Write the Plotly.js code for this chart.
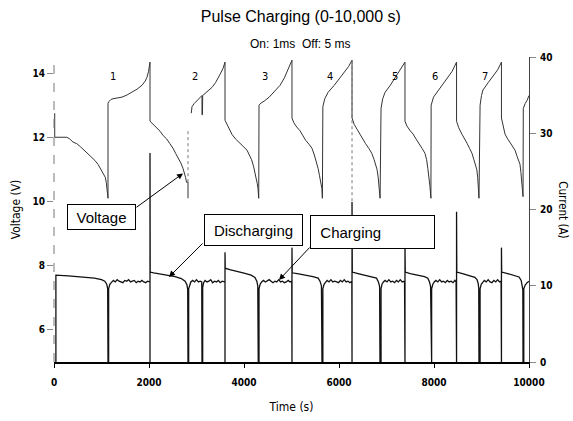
<!DOCTYPE html>
<html>
<head>
<meta charset="utf-8">
<script src="https://cdn.plot.ly/plotly-3.0.1.min.js"></script>
<style>html,body{margin:0;padding:0;background:#fff;}#chart{width:573px;height:421px;}</style>
</head>
<body>
<div id="chart"></div>
<script>
// ---- Voltage (left axis), discharging parts ----
const voltDisTime = [
  15,15,270,330,400,480,560,630,700,770,860,930,1000,1050,1080,1100,1116,1130,1137, null,
  2021,2060,2120,2180,2232,2300,2370,2440,2505,2560,2620,2670,2716,2745,2770,2790,2821,2821, null,
  3600,3640,3700,3747,3820,3900,3980,4063,4120,4160,4200,4232,4260,4280,4295,4310, null,
  5010,5050,5110,5180,5240,5300,5370,5430,5480,5520,5560,5590,5615,5640,5650, null,
  6274,6320,6380,6440,6500,6560,6630,6690,6740,6770,6800,6825,6850,6865, null,
  7389,7430,7500,7560,7620,7690,7750,7810,7845,7870,7895,7915,7935, null,
  8475,8520,8590,8650,8700,8750,8800,8840,8870,8900,8920,8935,8947, null,
  9420,9450,9495,9550,9610,9660,9705,9750,9790,9810,9830,9850,9865,9874
];
const voltDisVolts = [
  12.75,12.0,12.0,11.95,11.85,11.8,11.7,11.6,11.53,11.42,11.28,11.15,10.97,10.85,10.75,10.6,10.4,10.2,10.1, null,
  12.5,12.44,12.35,12.25,12.19,12.05,11.95,11.8,11.66,11.5,11.35,11.2,11.03,10.9,10.75,10.6,10.6,10.1, null,
  12.53,12.4,12.25,12.09,11.95,11.85,11.72,11.6,11.45,11.3,11.1,10.9,10.7,10.55,10.4,10.1, null,
  12.6,12.45,12.32,12.2,12.05,11.9,11.78,11.66,11.45,11.25,11.03,10.8,10.6,10.4,10.1, null,
  12.6,12.4,12.25,12.09,11.95,11.8,11.65,11.5,11.3,11.15,11.0,10.75,10.4,10.1, null,
  12.5,12.35,12.2,12.1,11.95,11.8,11.65,11.5,11.3,11.03,10.75,10.47,10.1, null,
  12.5,12.3,12.09,11.95,11.8,11.65,11.5,11.3,11.15,11.0,10.75,10.5,10.1, null,
  12.6,12.4,12.1,11.95,11.8,11.7,11.6,11.4,11.25,11.16,10.9,10.6,10.4,10.15
];

// ---- Voltage (left axis), charging parts ----
const voltChgTime = [
  1137,1137,1160,1200,1242,1330,1432,1540,1642,1750,1853,1920,1958,1990,2021,2021, null,
  2890,2905,2950,3000,3060,3116,3116,3125,3130,3190,3250,3330,3400,3460,3510,3560,3600,3600, null,
  4310,4316,4360,4420,4530,4650,4760,4850,4930,5010,5010, null,
  5650,5660,5700,5770,5900,6020,6120,6200,6274,6274, null,
  6865,6885,6920,6970,7080,7180,7270,7389,7389, null,
  7935,7940,7990,8063,8180,8290,8380,8475,8475, null,
  8947,8970,9000,9030,9140,9250,9340,9420,9420, null,
  9874,9880,9920,9960,10000
];
const voltChgVolts = [
  10.1,13.06,13.12,13.18,13.2,13.22,13.25,13.32,13.4,13.5,13.62,13.75,13.87,14.05,14.34,12.5, null,
  12.75,12.95,13.05,13.12,13.22,13.3,12.7,12.7,13.3,13.38,13.45,13.56,13.7,13.85,14.0,14.15,14.34,12.53, null,
  10.1,13.0,13.07,13.12,13.25,13.45,13.62,13.85,14.1,14.4,12.6, null,
  10.1,12.95,13.2,13.4,13.62,13.85,14.05,14.2,14.4,12.6, null,
  10.1,12.9,13.2,13.4,13.62,13.85,14.05,14.34,12.5, null,
  10.1,13.0,13.25,13.4,13.62,13.85,14.05,14.34,12.5, null,
  10.1,13.0,13.3,13.47,13.7,13.9,14.1,14.34,12.6, null,
  10.15,12.9,13.05,13.15,13.3
];

// ---- faint dotted guide lines (voltage axis) ----
const guideTime  = [2821, 2821, null, 6274, 6274];
const guideVolts = [12.19, 10.56, null, 14.4, 9.9];

// ---- Current (right axis) ----
const currTime = [
  40,40,300,600,850,1000,1070,1110,1130,1137,1150,1150,1175,1210,
  1250,1290,1330,1370,1410,1450,1490,1530,1570,1610,1650,1690,1730,1770,1810,1850,1890,1930,1970,2010,
  2021,2021,2021,2025,
  2100,2250,2400,2550,2680,2760,2800,2815,2821,2835,2835,2855,2880,
  2920,2960,3000,3040,3080,3110,3116,3130,3130,3150,
  3180,3220,3260,3300,3340,3380,3420,3460,3500,3540,3590,
  3600,3600,3600,3605,
  3700,3850,4000,4150,4230,4270,4290,4300,4316,4316,4340,4370,
  4410,4450,4490,4530,4570,4610,4650,4690,4730,4770,4810,4850,4890,4930,4970,5005,
  5010,5010,5015,
  5150,5300,5450,5560,5600,5630,5642,5660,5660,5685,5715,
  5750,5790,5830,5870,5910,5950,5990,6030,6070,6110,6150,6190,6230,6270,
  6274,6274,6280,
  6400,6550,6700,6790,6830,6855,6863,6885,6885,6905,6935,
  6970,7010,7050,7090,7130,7170,7210,7250,7290,7330,7380,
  7389,7389,7395,
  7500,7650,7800,7870,7905,7928,7937,7950,7950,7975,8005,
  8040,8080,8120,8160,8200,8240,8280,8320,8360,8400,8440,8465,
  8475,8475,8480,
  8600,8750,8860,8905,8930,8942,8947,8970,8970,8995,9025,
  9060,9100,9140,9180,9220,9260,9300,9340,9380,9412,
  9420,9420,9425,
  9550,9700,9790,9835,9860,9870,9874,9890,9890,9920,9960,10000
];
const currAmps = [
  0,11.4,11.3,11.15,11.0,10.8,10.6,10.2,9.6,0,0,9.6,10.2,10.45,
  10.7,10.5,10.8,10.6,10.5,10.4,10.7,10.6,10.8,10.5,10.6,10.7,10.4,10.6,10.5,10.7,10.5,10.4,10.6,10.5,
  10.5,0,27.4,11.8,
  11.7,11.55,11.4,11.2,10.95,10.6,10.1,9.5,0,0,9.6,10.2,10.5,
  10.7,10.5,10.8,10.5,10.6,10.5,0,0,9.8,10.4,
  10.7,10.5,10.6,10.8,10.4,10.6,10.5,10.7,10.4,10.6,10.5,
  10.5,0,14.4,12.3,
  12.1,11.9,11.65,11.4,11.1,10.6,10.0,0,0,9.6,10.2,10.5,
  10.7,10.5,10.6,10.8,10.6,10.4,10.6,10.5,10.8,10.5,10.6,10.4,10.5,10.7,10.5,10.6,
  0,15.0,11.7,
  11.55,11.4,11.2,11.0,10.6,10.0,0,0,9.6,10.2,10.5,
  10.7,10.5,10.8,10.5,10.6,10.5,10.4,10.7,10.5,10.8,10.5,10.6,10.4,10.6,
  0,21.0,11.8,
  11.6,11.4,11.2,11.0,10.5,9.9,0,0,9.6,10.2,10.5,
  10.7,10.5,10.8,10.5,10.6,10.4,10.7,10.5,10.8,10.5,10.6,
  0,15.3,11.8,
  11.6,11.4,11.2,11.0,10.5,9.9,0,0,9.6,10.2,10.5,
  10.7,10.5,10.8,10.5,10.6,10.4,10.7,10.5,10.6,10.4,10.7,10.5,
  0,19.7,11.8,
  11.6,11.35,11.1,10.8,10.3,9.7,0,0,9.6,10.2,10.5,
  10.7,10.5,10.8,10.5,10.4,10.7,10.5,10.8,10.5,10.6,
  0,15.0,11.8,
  11.6,11.35,11.15,10.7,10.1,9.5,0,0,9.6,10.1,10.4,10.6
];

// ---- labels ----
const cycleLabels = ['1','2','3','4','5','6','7'];
const cycleLabelTimes = [1242, 2968, 4442, 5810, 7178, 8020, 9073];
const cycleLabelVolt = 13.9;
const xTicks = [0, 2000, 4000, 6000, 8000, 10000];
const yVoltTicks = [6, 8, 10, 12, 14];
const yCurrTicks = [0, 10, 20, 30, 40];

const condensed = 'DejaVu Sans Condensed, Liberation Sans Narrow, sans-serif';
const sans = 'Liberation Sans, Arial, sans-serif';

const traces = [
  {x: voltDisTime, y: voltDisVolts, type: 'scatter', mode: 'lines', yaxis: 'y',
   line: {color: '#333', width: 1}, connectgaps: false, hoverinfo: 'skip', name: 'Voltage (discharging)'},
  {x: voltChgTime, y: voltChgVolts, type: 'scatter', mode: 'lines', yaxis: 'y',
   line: {color: '#333', width: 1}, connectgaps: false, hoverinfo: 'skip', name: 'Voltage (charging)'},
  {x: guideTime, y: guideVolts, type: 'scatter', mode: 'lines', yaxis: 'y',
   line: {color: '#777', width: 1, dash: 'dot'}, connectgaps: false, hoverinfo: 'skip', name: 'guide'},
  {x: currTime, y: currAmps, type: 'scatter', mode: 'lines', yaxis: 'y2',
   line: {color: '#111', width: 1.3}, hoverinfo: 'skip', name: 'Current'}
];

const annotations = [];
cycleLabels.forEach((t, i) => annotations.push({
  x: cycleLabelTimes[i], y: cycleLabelVolt, xref: 'x', yref: 'y', text: t, showarrow: false,
  font: {family: condensed, size: 11, color: '#000'}
}));
annotations.push({xref: 'paper', yref: 'paper', x: 0.518, y: 1.043, text: 'On: 1ms  Off: 5 ms',
  showarrow: false, font: {family: sans, size: 12, color: '#000'}, yanchor: 'middle'});
annotations.push({xref: 'paper', yref: 'paper', x: 1.072, y: 0.5, text: 'Current (A)', textangle: 90,
  showarrow: false, font: {family: condensed, size: 11.5, color: '#000'}, xanchor: 'center', yanchor: 'middle'});
annotations.push({xref: 'x', yref: 'y', x: 1000, y: 9.53, text: 'Voltage', showarrow: false,
  font: {family: sans, size: 15, color: '#000'}, bordercolor: '#000', borderwidth: 1, borderpad: 1,
  width: 65, height: 22, bgcolor: '#fff'});
annotations.push({xref: 'x', yref: 'y', x: 4200, y: 9.125, text: 'Discharging', showarrow: false,
  font: {family: sans, size: 15, color: '#000'}, bordercolor: '#000', borderwidth: 1, borderpad: 1,
  width: 95, height: 28, bgcolor: '#fff'});
annotations.push({xref: 'x', yref: 'y', x: 6705, y: 9.06, text: '\u00a0\u00a0Charging', showarrow: false, align: 'left',
  font: {family: sans, size: 15, color: '#000'}, bordercolor: '#000', borderwidth: 1, borderpad: 1,
  width: 121, height: 30, bgcolor: '#fff'});
annotations.push({xref: 'x', yref: 'y', x: 2716, y: 10.875, text: '', showarrow: true, ax: -48, ay: 35,
  arrowhead: 2, arrowsize: 1.2, arrowwidth: 1, arrowcolor: '#000', standoff: 0});
annotations.push({xref: 'x', yref: 'y2', x: 2421, y: 11.15, text: '', showarrow: true, ax: 35, ay: -35,
  arrowhead: 2, arrowsize: 1.2, arrowwidth: 1, arrowcolor: '#000', standoff: 0});
annotations.push({xref: 'x', yref: 'y2', x: 4737, y: 10.75, text: '', showarrow: true, ax: 32, ay: -34,
  arrowhead: 2, arrowsize: 1.2, arrowwidth: 1, arrowcolor: '#000', standoff: 0});

const layout = {
  width: 573, height: 421,
  margin: {l: 54, r: 44, t: 57, b: 59},
  paper_bgcolor: '#fff', plot_bgcolor: '#fff',
  showlegend: false,
  title: {text: 'Pulse Charging (0-10,000 s)', xref: 'container', yref: 'container',
    x: 0.525, y: 0.96, xanchor: 'center', yanchor: 'middle',
    font: {family: sans, size: 16, color: '#000'}},
  xaxis: {range: [0, 10000], tickvals: xTicks, ticktext: xTicks.map(String),
    ticks: 'outside', ticklen: 4, tickcolor: '#000', ticklabelstandoff: 6,
    showline: true, linecolor: '#000', linewidth: 2, showgrid: false, zeroline: false,
    tickfont: {family: condensed, size: 10, color: '#000', weight: 'bold'},
    title: {text: 'Time (s)', standoff: 16, font: {family: condensed, size: 12, color: '#000'}}},
  yaxis: {range: [5, 14.5], tickvals: yVoltTicks, ticks: 'outside', ticklen: 6, tickcolor: '#888',
    showline: false, showgrid: false, zeroline: false,
    tickfont: {family: condensed, size: 10, color: '#000', weight: 'bold'},
    title: {text: 'Voltage (V)', standoff: 9, font: {family: condensed, size: 12, color: '#000'}}},
  yaxis2: {range: [0, 40], tickvals: yCurrTicks, overlaying: 'y', side: 'right',
    ticks: 'outside', ticklen: 6, tickcolor: '#888', ticklabelstandoff: 2,
    showline: true, linecolor: '#444', linewidth: 1, showgrid: false, zeroline: false,
    tickfont: {family: condensed, size: 10, color: '#000', weight: 'bold'}},
  shapes: [
    {type: 'line', xref: 'paper', yref: 'paper', x0: 0, x1: 0, y0: 0, y1: 1,
     line: {color: '#777', width: 1, dash: 'dash'}}
  ],
  annotations: annotations
};

Plotly.newPlot('chart', traces, layout, {displayModeBar: false, staticPlot: true});
</script>
</body>
</html>
